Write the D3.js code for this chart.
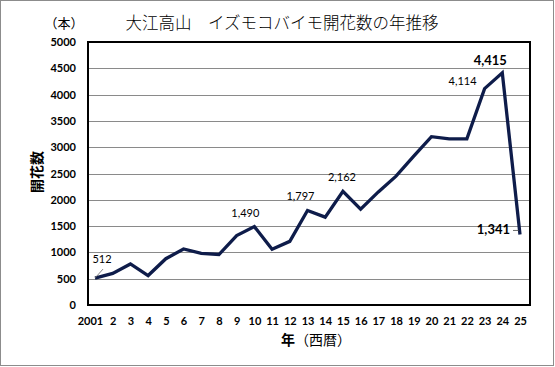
<!DOCTYPE html>
<html><head><meta charset="utf-8">
<script src="https://cdn.jsdelivr.net/npm/d3@7"></script>
<style>
html,body{margin:0;padding:0;background:#fff;}
svg{display:block;}
text{font-family:"Noto Sans CJK JP","Noto Sans",sans-serif;}
.num{font-family:Lato,"Liberation Sans",sans-serif;}
</style></head>
<body>
<svg id="c" width="555" height="367"></svg>
<script>
const years = ["2001","2","3","4","5","6","7","8","9","10","11","12","13","14","15","16","17","18","19","20","21","22","23","24","25"];
const counts = [512,600,780,560,880,1065,980,960,1320,1490,1060,1210,1797,1670,2162,1820,2150,2450,2830,3200,3160,3160,4114,4415,1341];
const yTicks = [0,500,1000,1500,2000,2500,3000,3500,4000,4500,5000];
const labeled = [
  {i:0, text:"512", dx:7, dy:-15, bold:false, anchor:"middle", leader:true},
  {i:9, text:"1,490", dx:-9, dy:-10, bold:false, anchor:"middle"},
  {i:12, text:"1,797", dx:-7, dy:-10, bold:false, anchor:"middle"},
  {i:14, text:"2,162", dx:-1, dy:-10, bold:false, anchor:"middle"},
  {i:22, text:"4,114", dx:-8, dy:-4, bold:false, anchor:"end"},
  {i:23, text:"4,415", dx:-12, dy:-8, bold:true, anchor:"middle"},
  {i:24, text:"1,341", dx:-10, dy:0, bold:true, anchor:"end", leader2:true}
];

const svg = d3.select("#c");
const L = 88, R = 530, T = 42, B = 305;

// outer border
svg.append("rect").attr("x",0.5).attr("y",0.5).attr("width",553).attr("height",365)
  .attr("fill","#fff").attr("stroke","#8c8c8c").attr("stroke-width",1);

const x = d3.scalePoint().domain(years).range([L+7, R-10]);
const y = d3.scaleLinear().domain([0,5000]).range([B, T]);

// gridlines
svg.append("g").selectAll("line").data(yTicks.filter(d=>d>0 && d<5000)).join("line")
  .attr("x1",L).attr("x2",R).attr("y1",d=>Math.round(y(d))+0.5).attr("y2",d=>Math.round(y(d))+0.5)
  .attr("stroke","#8a8a8a").attr("stroke-width",1);

// y axis
const ya = svg.append("g").attr("transform",`translate(${L},0)`)
  .call(d3.axisLeft(y).tickValues(yTicks).tickFormat(d3.format("d")).tickSize(0).tickPadding(12));
ya.select(".domain").remove();
ya.selectAll("text").attr("class","num").style("font-size","11px").style("font-weight","bold").attr("fill","#000");

// x axis
const xa = svg.append("g").attr("transform",`translate(0,${B})`)
  .call(d3.axisBottom(x).tickSize(0).tickPadding(12));
xa.select(".domain").remove();
xa.selectAll("text").attr("class","num").style("font-size","11px").style("font-weight","bold").attr("fill","#000")
  .attr("dx",(d,i)=>i===0?-5:0);

// plot frame
svg.append("rect").attr("x",L).attr("y",T).attr("width",R-L).attr("height",B-T)
  .attr("fill","none").attr("stroke","#000").attr("stroke-width",2);

// line
const line = d3.line().x((d,i)=>x(years[i])).y(d=>y(d));
svg.append("path").datum(counts).attr("d",line).attr("fill","none")
  .attr("stroke","#0e1c4a").attr("stroke-width",3.3).attr("stroke-linejoin","miter");

// data labels
labeled.forEach(l=>{
  const px = x(years[l.i]), py = y(counts[l.i]);
  svg.append("text").attr("class","num").attr("x",px+l.dx).attr("y",py+l.dy)
    .attr("text-anchor",l.anchor)
    .style("font-size", l.bold?"13px":"11px").style("font-weight", l.bold?"bold":"normal")
    .attr("fill","#000").text(l.text);
  if(l.leader){
    svg.append("line").attr("x1",px).attr("y1",py).attr("x2",px+8).attr("y2",py-9)
      .attr("stroke","#666").attr("stroke-width",0.8);
  }
  if(l.leader2){
    svg.append("line").attr("x1",px-7).attr("y1",py-4).attr("x2",px-1).attr("y2",py-4)
      .attr("stroke","#444").attr("stroke-width",0.8);
  }
});

// titles
svg.append("text").attr("x",282).attr("y",29).attr("text-anchor","middle")
  .style("font-size","16.5px").style("font-weight","300").attr("fill","#000").text("大江高山　イズモコバイモ開花数の年推移");
svg.append("text").attr("x",64).attr("y",28).attr("text-anchor","middle")
  .style("font-size","13px").attr("fill","#000").text("（本）");
svg.append("text").attr("transform","translate(42,172) rotate(-90)").attr("text-anchor","middle")
  .style("font-size","14px").style("font-weight","bold").attr("fill","#000").text("開花数");
const xt = svg.append("text").attr("x",316).attr("y",345).attr("text-anchor","middle")
  .style("font-size","14px").attr("fill","#000");
xt.append("tspan").style("font-weight","bold").text("年");
xt.append("tspan").text("（西暦）");
</script>
</body></html>
